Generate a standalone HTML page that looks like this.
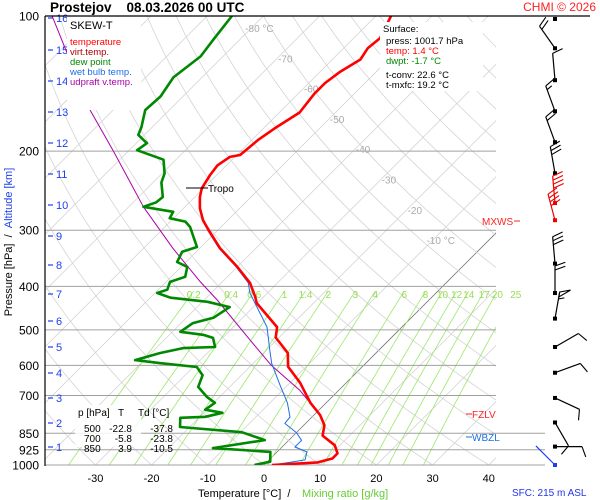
<!DOCTYPE html>
<html><head><meta charset="utf-8"><style>
html,body{margin:0;padding:0;background:#fff;}
svg{display:block;font-family:"Liberation Sans",Arial,sans-serif;}
</style></head><body>
<svg id="chart" width="600" height="500" viewBox="0 0 600 500">
<defs><clipPath id="plotclip"><rect x="45" y="16" width="451" height="449"/></clipPath></defs>
<rect x="0" y="0" width="600" height="500" fill="#fff"/>
<g id="grid" clip-path="url(#plotclip)"></g>
<g id="mixlines" clip-path="url(#plotclip)"></g>
<g id="plines"></g>
<g id="labels"></g>
<g id="series" clip-path="url(#plotclip)"></g>
<g id="winds"></g>
<g id="deco">
<text x="50" y="12" font-size="13.5" font-weight="bold" fill="#000">Prostejov&#160;&#160;&#160;&#160;08.03.2026 00 UTC</text>
<text x="596" y="11" font-size="12" fill="#ff2222" text-anchor="end">CHMI © 2026</text>
<line x1="45" y1="16" x2="590" y2="16" stroke="#000" stroke-width="1.2"/>
<line x1="45" y1="16" x2="45" y2="466" stroke="#000" stroke-width="1.2"/>
<rect x="67" y="17" width="74" height="93" fill="#fff"/>
<text x="70" y="29" font-size="11" fill="#000">SKEW-T</text>
<text x="70" y="45" font-size="9.5" fill="#ff0000">temperature</text>
<text x="70" y="55" font-size="9.5" fill="#aa0000">virt.temp.</text>
<text x="70" y="65" font-size="9.5" fill="#008800">dew point</text>
<text x="70" y="75" font-size="9.5" fill="#1e6ee6">wet bulb temp.</text>
<text x="70" y="85" font-size="9.5" fill="#aa00aa">udpraft v.temp.</text>
<rect x="380" y="22" width="103" height="69" fill="#fff"/>
<text x="383" y="32" font-size="9.5" fill="#000">Surface:</text>
<text x="386" y="44" font-size="9.5" fill="#000">press: 1001.7 hPa</text>
<text x="386" y="54" font-size="9.5" fill="#ff0000">temp: 1.4 °C</text>
<text x="386" y="64" font-size="9.5" fill="#008800">dwpt: -1.7 °C</text>
<text x="386" y="78" font-size="9.5" fill="#000">t-conv: 22.6 °C</text>
<text x="386" y="88" font-size="9.5" fill="#000">t-mxfc: 19.2 °C</text>
<rect x="75" y="405" width="66" height="42" fill="#fff" opacity="0.85"/>
<text x="78" y="416" font-size="10" fill="#000">p [hPa]&#160;&#160;&#160;T&#160;&#160;&#160;&#160;&#160;Td [°C]</text>
<text font-size="10" fill="#000"><tspan x="84" y="432">500</tspan><tspan x="132" y="432" text-anchor="end">-22.8</tspan><tspan x="173" y="432" text-anchor="end">-37.8</tspan></text>
<text font-size="10" fill="#000"><tspan x="84" y="442">700</tspan><tspan x="132" y="442" text-anchor="end">-5.8</tspan><tspan x="173" y="442" text-anchor="end">-23.8</tspan></text>
<text font-size="10" fill="#000"><tspan x="84" y="452">850</tspan><tspan x="132" y="452" text-anchor="end">3.9</tspan><tspan x="173" y="452" text-anchor="end">-10.5</tspan></text>
<line x1="186" y1="188" x2="208" y2="188" stroke="#000" stroke-width="1"/>
<text x="208" y="192" font-size="10" fill="#000">Tropo</text>
<text x="482" y="225" font-size="10" fill="#ff2222">MXWS</text>
<line x1="514" y1="221" x2="520" y2="221" stroke="#ff2222"/>
<line x1="466" y1="414" x2="472" y2="414" stroke="#ff2222"/>
<text x="472" y="418" font-size="10" fill="#ff2222">FZLV</text>
<line x1="466" y1="437" x2="472" y2="437" stroke="#1e6ee6"/>
<text x="472" y="441" font-size="10" fill="#1e6ee6">WBZL</text>
<text x="198" y="497" font-size="11" fill="#000">Temperature [°C]&#160;&#160;/</text>
<text x="302" y="497" font-size="11" fill="#66cc33">Mixing ratio [g/kg]</text>
<text x="512" y="496" font-size="10" fill="#2233ee">SFC: 215 m ASL</text>
<text transform="translate(12,242) rotate(-90)" font-size="11" text-anchor="middle"><tspan fill="#000">Pressure [hPa]&#160;&#160;/&#160;&#160;</tspan><tspan fill="#1e3ef0">Altitude [km]</tspan></text>
</g>
</svg>
<script>
// ---- data ----
const pressureLevels = [100,200,300,400,500,600,700,850,925,1000];
const tempTicks = [-30,-20,-10,0,10,20,30,40];
const isothermLabels = [-80,-70,-60,-50,-40,-30,-20,-10];
const mixRatios = [0.2,0.4,0.6,1,1.4,2,3,4,6,8,10,12,14,17,20,25];
const altKm = [1,2,3,4,5,6,7,8,9,10,11,12,13,14,15,16];
const altP = [945,890,836,785,736,690,646,605,565,528,492,459,428,399,372,347];
const altY = [447,423,398,373,347,321,294,265,236,205,174,143,112,81,50,18];

const tempP = [1000,987,967,942,904,860,816,774,727,656,604,563,520,493,436,422,393,362,329,299,285,268,253,242,226,215,206,204,189,178,164,149,141,133,125,118,112,100];
const tempT = [1.4,9.1,11.0,11.0,9.1,5.2,3.7,1.1,-2.8,-8.2,-13.2,-15.7,-20.6,-22.2,-30.1,-31.5,-34.9,-40.0,-46.4,-51.8,-54.4,-57.1,-59.1,-60.3,-61.2,-61.6,-60.9,-59.4,-58.9,-58.0,-56.4,-57.1,-57.1,-56.4,-55.0,-55.7,-55.3,-57.3];
const dewP = [1000,983,935,917,880,845,823,785,781,765,753,727,706,670,631,605,593,584,563,549,546,521,513,505,483,470,445,433,424,414,407,391,381,362,353,335,327,316,295,287,282,273,266,260,253,235,224,209,199,192,184,177,162,151,137,123,113,100];
const dewT = [-1.7,0.5,-1.2,-12.1,-4.3,-9.8,-21.7,-23.3,-19.0,-16.7,-20.3,-19.8,-22.2,-25.6,-26.9,-29.4,-36.7,-41.6,-38.4,-35.2,-29.7,-31.7,-34.0,-38.6,-37.9,-35.2,-34.2,-39.1,-46.4,-49.6,-48.4,-49.3,-47.5,-48.9,-51.6,-52.5,-50.7,-52.3,-55.5,-57.3,-60.7,-61.2,-67.4,-65.9,-65.7,-68.5,-69.6,-72.2,-78.6,-78.1,-81.1,-81.9,-84.3,-84.0,-85.1,-84.0,-84.7,-85.6];
const wetP = [1000,974,935,912,881,847,808,782,727,669,594,555,493,414,393,362,329,299];
const wetT = [1.6,6.4,5.3,2.3,2.3,0.0,-3.7,-3.9,-6.9,-11.0,-16.7,-19.4,-24.0,-33.1,-35.2,-40.2,-46.6,-52.0];
const updP = [774,682,600,527,429,391,329,266,199,162,100];
const updT = [1.1,-6.9,-16.4,-24.7,-37.7,-43.9,-54.8,-67.4,-82.9,-94.1,-117.6];

const windP = [118,139,163,191,224,261,285,356,414,472,546,623,709,804,910,1000];
const windDir = [325,355,340,340,350,355,345,355,0,10,60,70,115,150,90,315];
const windSpd = [20,10,15,20,30,40,40,30,20,55,10,10,10,10,10,0];
const windColor = ['#000','#000','#000','#000','#000','#e00','#e00','#000','#000','#000','#000','#000','#000','#000','#000','#1e3ef0'];

// ---- axes ----
function yP(p){return 16+449*Math.log10(p/100);}
function xT(T,p){return 264+5.62*T+(465-yP(p));}
const NS='http://www.w3.org/2000/svg';
function mk(tag,attrs,parent){const e=document.createElementNS(NS,tag);for(const k in attrs)e.setAttribute(k,attrs[k]);parent.appendChild(e);return e;}
const grid=document.getElementById('grid'),mixG=document.getElementById('mixlines'),pl=document.getElementById('plines'),lab=document.getElementById('labels'),ser=document.getElementById('series'),wg=document.getElementById('winds');

// isotherms
for(let T=-150;T<=50;T+=10){
  const l=mk('line',{x1:xT(T,1000),y1:yP(1000),x2:xT(T,100),y2:yP(100),stroke:T===0?'#777':'#d4d4d4','stroke-width':T===0?0.8:0.8},grid);
  
  
}
// dry adiabats
for(let th=-40;th<=200;th+=10){
  let d='';
  for(let p=1000;p>=100;p-=10){const T=(th+273.15)*Math.pow(p/1000,0.286)-273.15;d+=(d?'L':'M')+xT(T,p).toFixed(1)+','+yP(p).toFixed(1);}
  const a=mk('path',{d:d,fill:'none',stroke:'#d4d4d4','stroke-width':0.8},grid);
  
  
}
// mixing ratio lines
function tdFromW(w,p){const e=w*p/(622+w);const L=Math.log(e/6.112);return 243.5*L/(17.67-L);}
mixRatios.forEach(w=>{
  let d='';
  for(let p=1000;p>=410;p-=10){d+=(d?'L':'M')+xT(tdFromW(w,p),p).toFixed(1)+','+yP(p).toFixed(1);}
  const m=mk('path',{d:d,fill:'none',stroke:'#9be86b','stroke-width':0.8},mixG);
  
  
  const t=mk('text',{x:xT(tdFromW(w,410),410),y:298,'font-size':10,fill:'#99dd55','text-anchor':'middle'},lab);
  t.textContent=String(w);
  
  
});
// pressure lines & labels
pressureLevels.forEach(p=>{
  const y=yP(p);
  if(p!==100){
    const x2=(p>=850)?545:496;
    const l=mk('line',{x1:45,y1:y,x2:x2,y2:y,stroke:'#a0a0a0','stroke-width':1},pl);
    
    
  }
  const t=mk('text',{x:39,y:y+4.5,'font-size':12,'text-anchor':'end',fill:'#000'},lab);
  t.textContent=String(p);
  
  
});
// temperature ticks
tempTicks.forEach(T=>{
  const t=mk('text',{x:xT(T,1000),y:482,'font-size':11,'text-anchor':'middle',fill:'#000'},lab);
  t.textContent=String(T);
  
  
});
// isotherm labels
isothermLabels.forEach((T,i)=>{
  const y=28+i*30.3;
  const p=100*Math.pow(10,(y-16)/449);
  const t=mk('text',{x:xT(T,p)+8,y:y+4,'font-size':10,fill:'#aaa','text-anchor':'middle'},lab);
  t.textContent=(i===0||i===isothermLabels.length-1)?T+' °C':String(T);
  
  
});
// altitude ticks
altKm.forEach((k,i)=>{
  const y=altY[i];
  const l=mk('line',{x1:48,y1:y,x2:53,y2:y,stroke:'#1e3ef0','stroke-width':1.2},lab);
  
  
  const t=mk('text',{x:56,y:y+4,'font-size':11,fill:'#1e3ef0'},lab);
  t.textContent=String(k);
  
  
});
// series
function line(P,T,color,w,name){
  let d='';P.forEach((p,i)=>{d+=(i?'L':'M')+xT(T[i],p).toFixed(1)+','+yP(p).toFixed(1);});
  const e=mk('path',{d:d,fill:'none',stroke:color,'stroke-width':w,'stroke-linejoin':'round'},ser);
  
  
}
line(updP,updT,'#aa00aa',1,'updraft-line');
line(dewP,dewT,'#008800',2.6,'dewpoint-line');
line(tempP,tempT,'#aa0000',1,'virt-temp-line');
line(wetP,wetT,'#1e6ee6',1,'wet-bulb-line');
line(tempP,tempT,'#ff0000',2.6,'temperature-line');
// wind barbs
const wx=555;
const dot0=mk('rect',{x:wx-2,y:yP(100)-0+1,width:4,height:4,fill:'#000'},wg);


windP.forEach((p,i)=>{
  const y=yP(p), c=windColor[i];
  const g=mk('g',{},wg);
  
  
  mk('rect',{x:wx-2,y:y-2,width:4,height:4,fill:c},g);
  const a=windDir[i]*Math.PI/180, L=27;
  const ux=Math.sin(a), uy=-Math.cos(a);
  const ex=wx+ux*L, ey=y+uy*L;
  mk('line',{x1:wx,y1:y,x2:ex,y2:ey,stroke:c,'stroke-width':1.2},g);
  // barb direction: clockwise perpendicular, tilted outward
  const b=a+Math.PI/2-0.35; const bx=Math.sin(b), by=-Math.cos(b);
  let s=windSpd[i], pos=0;
  while(s>=50){const x0=ex-ux*pos,y0=ey-uy*pos;mk('polygon',{points:`${x0},${y0} ${x0+bx*11},${y0+by*11} ${x0-ux*5},${y0-uy*5}`,fill:'none',stroke:c,'stroke-width':1.1},g);pos+=7;s-=50;}
  while(s>=10){const x0=ex-ux*pos,y0=ey-uy*pos;mk('line',{x1:x0,y1:y0,x2:x0+bx*11,y2:y0+by*11,stroke:c,'stroke-width':1.1},g);pos+=4;s-=10;}
  if(s>=5){if(pos===0)pos=4;const x0=ex-ux*pos,y0=ey-uy*pos;mk('line',{x1:x0,y1:y0,x2:x0+bx*6,y2:y0+by*6,stroke:c,'stroke-width':1.1},g);}
});
</script>
</body></html>
